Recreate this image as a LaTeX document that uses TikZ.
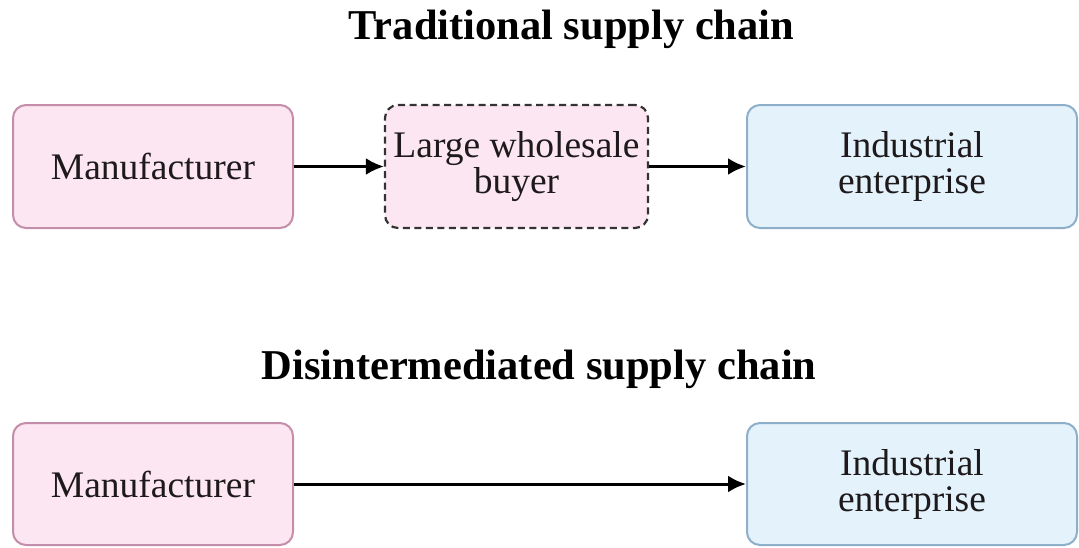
\documentclass[tikz,border=0pt]{standalone}
\usepackage{fontspec}
\setmainfont{Liberation Serif}
\usetikzlibrary{arrows.meta}
\definecolor{pinkfill}{HTML}{FCE6F1}
\definecolor{pinkline}{HTML}{C48DAA}
\definecolor{bluefill}{HTML}{E4F2FC}
\definecolor{blueline}{HTML}{8DAFC9}
\definecolor{ink}{HTML}{1E1A1C}
\tikzset{
  box/.style={rounded corners=13pt, line width=2pt, inner sep=0pt, align=center,
    text=ink, font=\fontsize{37.5}{36}\selectfont},
  pinkbox/.style={box, draw=pinkline, fill=pinkfill},
  bluebox/.style={box, draw=blueline, fill=bluefill},
  midbox/.style={box, draw=black!80, fill=pinkfill, line width=2.2pt, dash pattern=on 7pt off 4.5pt},
  flow/.style={line width=3pt, -{Latex[length=18pt,width=17pt]}, draw=black},
  heading/.style={font=\fontsize{42.5}{44}\selectfont\bfseries, text=black, inner sep=0pt}
}
\begin{document}
\begin{tikzpicture}[x=1pt,y=-1pt]
  \useasboundingbox (0,0) rectangle (1079,547);
  \fill[white] (0,0) rectangle (1079,547);

  % traditional chain
  \node[heading, anchor=base] (t1) at (571.5,39) {Traditional supply chain};
  \node[pinkbox, minimum width=280pt, minimum height=123pt] (m1) at (153,166.5) {Manufacturer};
  \node[midbox, minimum width=263pt, minimum height=123pt] (w1) at (516.5,166.5) {Large wholesale\\buyer};
  \node[bluebox, minimum width=330pt, minimum height=123pt] (e1) at (912,166.5) {Industrial\\enterprise};
  \draw[flow] (m1) -- (w1);
  \draw[flow] (w1) -- (e1);

  % disintermediated chain
  \node[heading, anchor=base] (t2) at (539,379) {Disintermediated supply chain};
  \node[pinkbox, minimum width=280pt, minimum height=122pt] (m2) at (153,484) {Manufacturer};
  \node[bluebox, minimum width=330pt, minimum height=122pt] (e2) at (912,484) {Industrial\\enterprise};
  \draw[flow] (m2) -- (e2);
\end{tikzpicture}
\end{document}
